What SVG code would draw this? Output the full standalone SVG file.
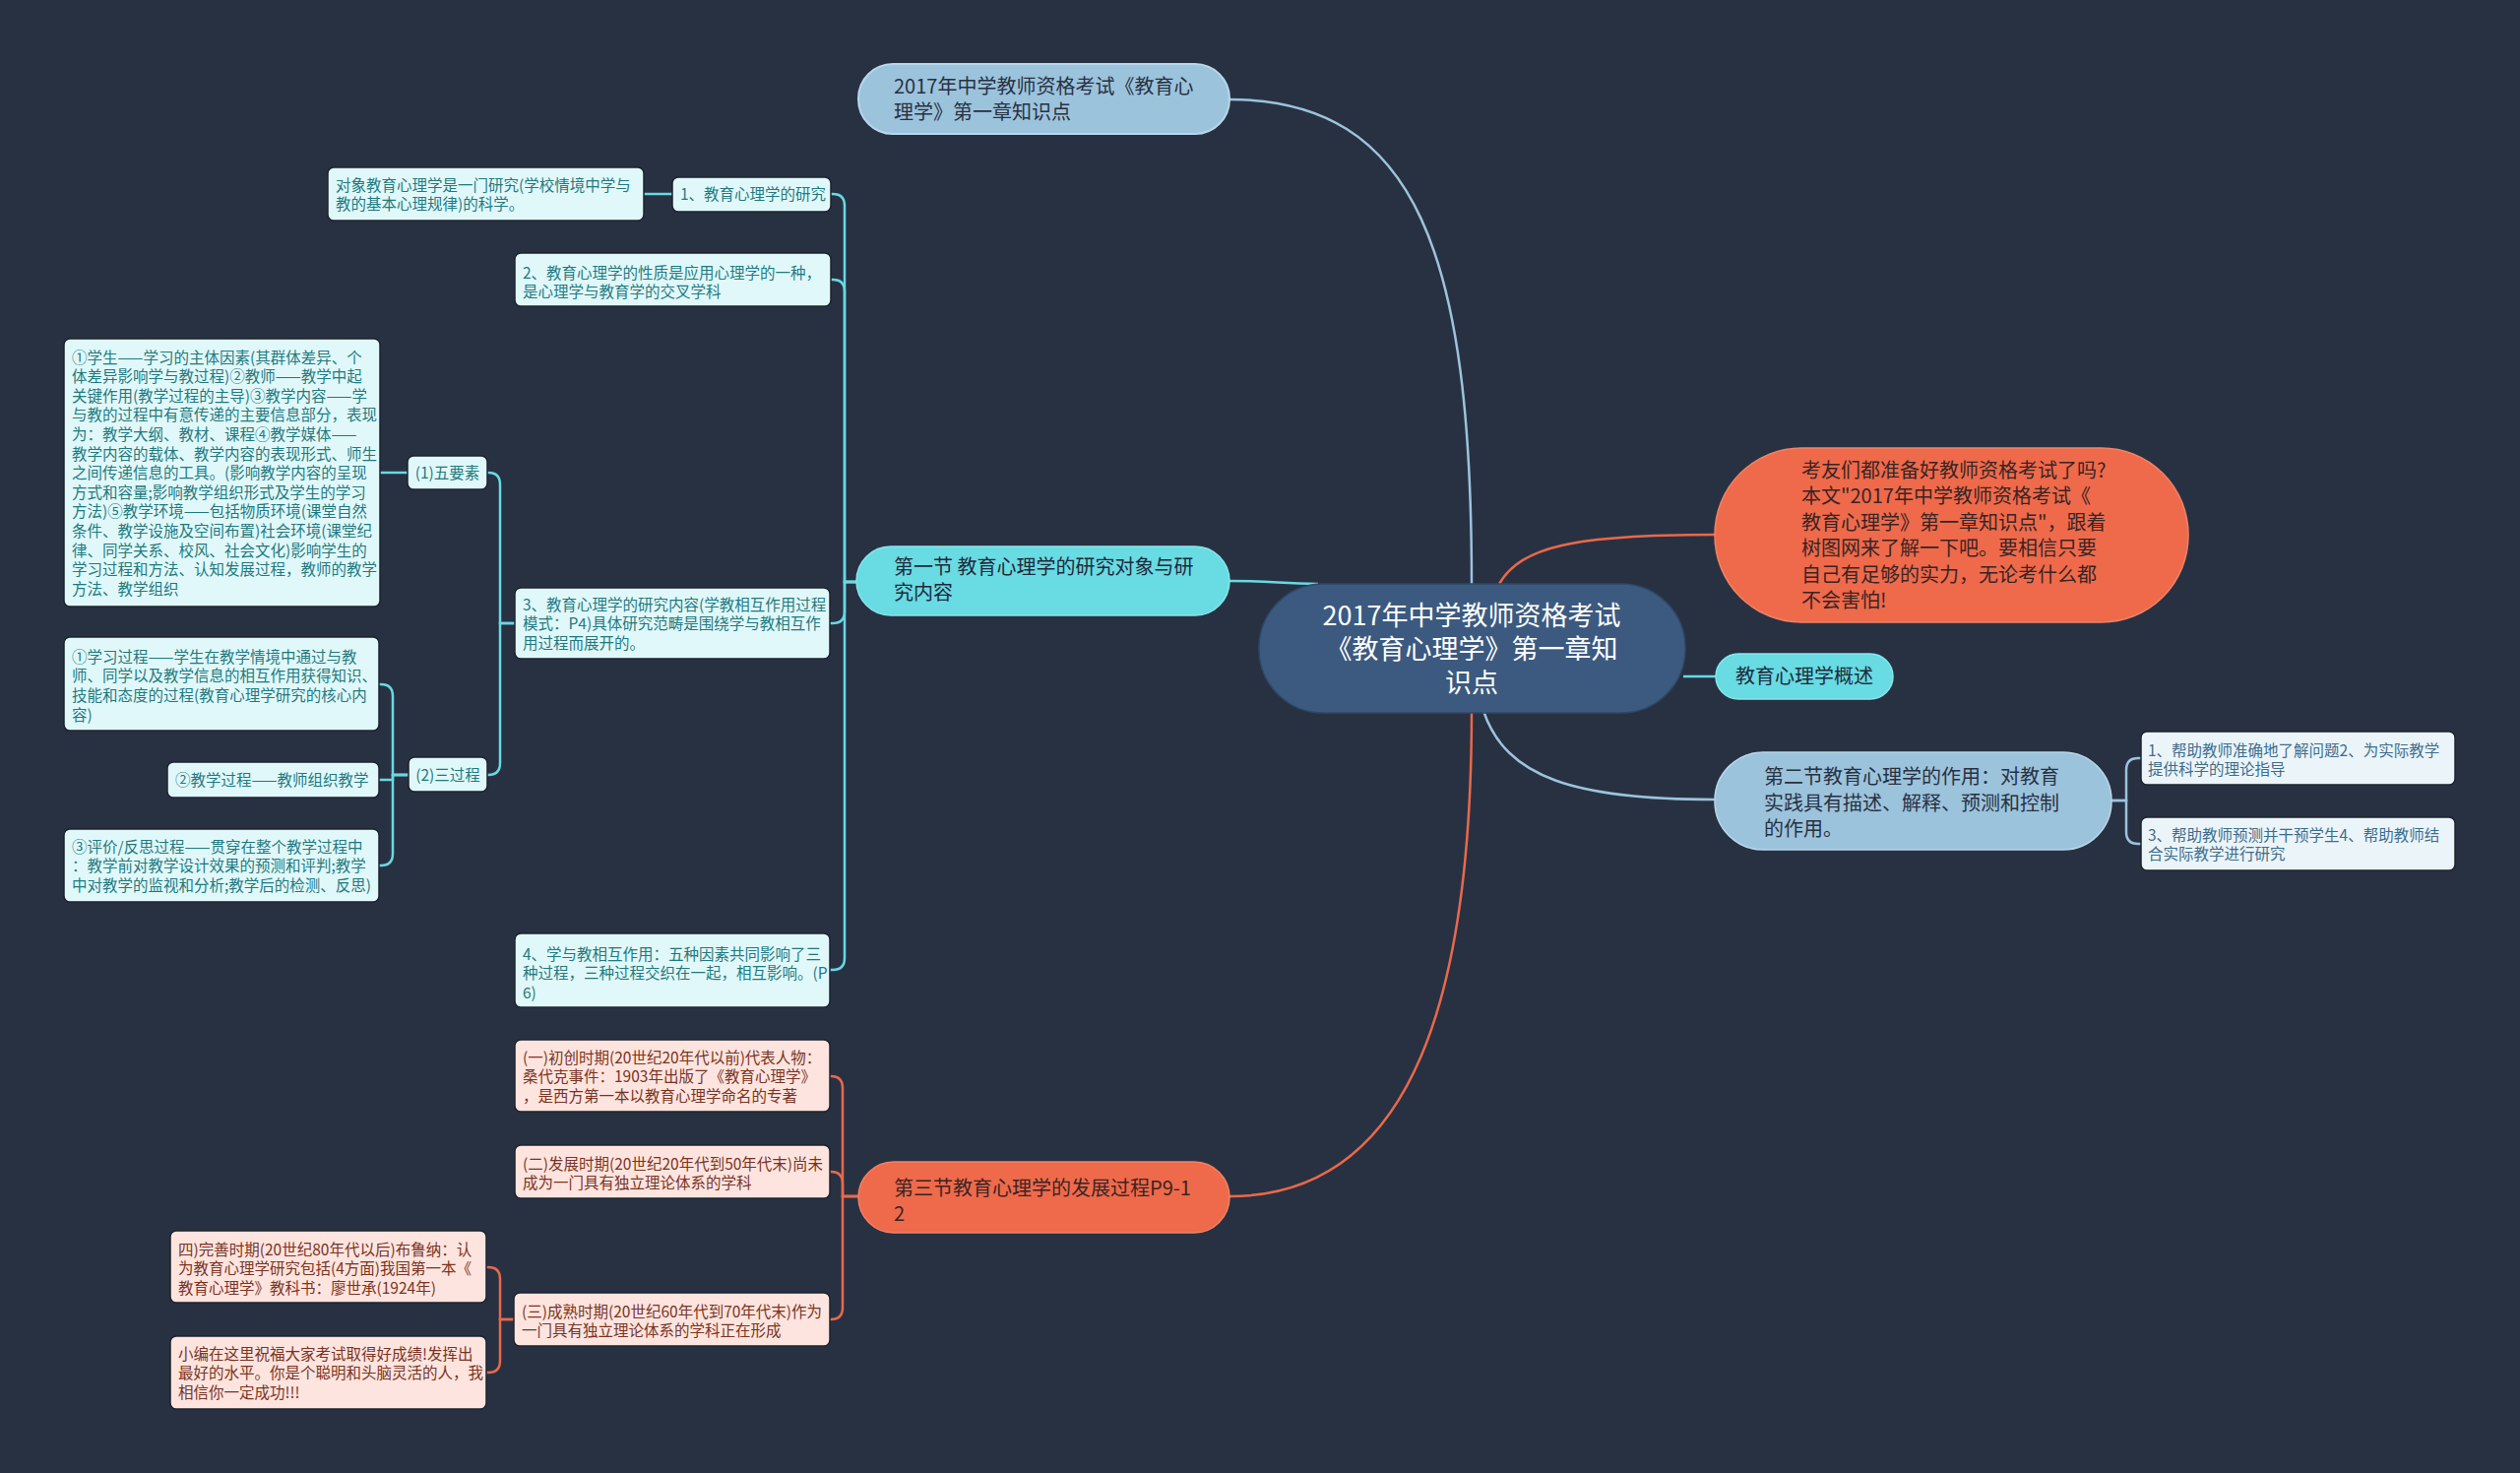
<svg xmlns="http://www.w3.org/2000/svg" width="2560" height="1496" viewBox="0 0 2560 1496">
<style>
text{font-family:"Noto Sans CJK SC","Noto Sans",sans-serif;}
.lf{font-size:15.5px;}
.c1 rect{fill:#e1f8fa;stroke:#1c232f;stroke-width:1.5;}
.c1 text{fill:#1e7a80;}
.c2 rect{fill:#ebf4f8;stroke:#1c232f;stroke-width:1.5;}
.c2 text{fill:#3d6d8d;}
.c3 rect{fill:#fde4de;stroke:#1c232f;stroke-width:1.5;}
.c3 text{fill:#7a3323;}
.m{font-size:20px;}
.lc{fill:none;stroke:#68d9e2;stroke-width:2.5;}
.lb{fill:none;stroke:#9cc3dc;stroke-width:2.5;}
.lo{fill:none;stroke:#e8694b;stroke-width:2.5;}
</style>
<rect x="0" y="0" width="2560" height="1496" fill="#283142"/>
<g id="connectors">
<path class="lb" d="M1249,101 C1440,101 1495,260 1495,593"/>
<path class="lo" d="M1495,722 C1495,1000 1440,1215 1249,1215"/>
<path class="lc" d="M1249,590 C1295,590 1300,593 1339,593"/>
<path class="lo" d="M1523,593 C1545,555 1600,543 1742,543"/>
<path class="lc" d="M1710,687 L1744,687"/>
<path class="lb" d="M1507,722 C1530,790 1600,812 1742,812"/>
<path class="lc" d="M870,591 H858 V209 Q858,197 846,197 H844"/>
<path class="lc" d="M870,591 H858 V296 Q858,284 846,284 H844"/>
<path class="lc" d="M870,591 H858 V621 Q858,633 846,633 H843"/>
<path class="lc" d="M870,591 H858 V973 Q858,985 846,985 H843"/>
<path class="lc" d="M683,197 L654,197"/>
<path class="lc" d="M523,633 H508 V492 Q508,480 496,480 H495"/>
<path class="lc" d="M523,633 H508 V775 Q508,787 496,787 H495"/>
<path class="lc" d="M414,480 L386,480"/>
<path class="lc" d="M415,787 H399 V707 Q399,695 387,695 H385"/>
<path class="lc" d="M415,787 H399 V792 H385"/>
<path class="lc" d="M415,787 H399 V867 Q399,879 387,879 H385"/>
<path class="lo" d="M872,1215 H856 V1105 Q856,1093 844,1093 H843"/>
<path class="lo" d="M872,1215 H856 V1202 Q856,1190 844,1190 H843"/>
<path class="lo" d="M872,1215 H856 V1328 Q856,1340 844,1340 H843"/>
<path class="lo" d="M522,1340 H508 V1299 Q508,1287 496,1287 H494"/>
<path class="lo" d="M522,1340 H508 V1382 Q508,1394 496,1394 H494"/>
<path class="lb" d="M2145,813 H2160 V782 Q2160,770 2172,770 H2175"/>
<path class="lb" d="M2145,813 H2160 V845 Q2160,857 2172,857 H2175"/>
</g>
<g id="root">
<rect x="1279" y="593" width="433" height="131" rx="65" fill="#3c5a7f" stroke="#2f4866" stroke-width="1.5"/>
<text x="1495" y="635" font-size="27" fill="#ffffff" text-anchor="middle">2017年中学教师资格考试<tspan x="1495" dy="34">《教育心理学》第一章知</tspan><tspan x="1495" dy="34">识点</tspan></text>
</g>
<g id="n-top">
<rect x="872" y="65" width="377" height="71" rx="35" fill="#9cc3dc" stroke="#b8d7ea" stroke-width="2"/>
<text class="m" x="908" y="95" fill="#283142">2017年中学教师资格考试《教育心<tspan x="908" dy="26">理学》第一章知识点</tspan></text>
</g>
<g id="n-sec1">
<rect x="870" y="555" width="379" height="70" rx="35" fill="#68dbe3" stroke="#86e6ec" stroke-width="1.5"/>
<text class="m" x="908" y="583" fill="#1f2a3a">第一节 教育心理学的研究对象与研<tspan x="908" dy="26">究内容</tspan></text>
</g>
<g id="n-sec3">
<rect x="872" y="1180" width="377" height="72" rx="36" fill="#ee6a4b" stroke="#f08265" stroke-width="1.5"/>
<text class="m" x="908" y="1214" fill="#3a2424">第三节教育心理学的发展过程P9-1<tspan x="908" dy="26">2</tspan></text>
</g>
<g id="n-intro">
<rect x="1742" y="455" width="481" height="177" rx="88" fill="#ee6a4b" stroke="#f08265" stroke-width="1.5"/>
<text class="m" x="1830" y="485" fill="#3a2424">考友们都准备好教师资格考试了吗?<tspan x="1830" dy="26.4">本文"2017年中学教师资格考试《</tspan><tspan x="1830" dy="26.4">教育心理学》第一章知识点"，跟着</tspan><tspan x="1830" dy="26.4">树图网来了解一下吧。要相信只要</tspan><tspan x="1830" dy="26.4">自己有足够的实力，无论考什么都</tspan><tspan x="1830" dy="26.4">不会害怕!</tspan></text>
</g>
<g id="n-overview">
<rect x="1743" y="664" width="180" height="46" rx="23" fill="#68dbe3" stroke="#86e6ec" stroke-width="1.5"/>
<text class="m" x="1833" y="694" fill="#1f2a3a" text-anchor="middle">教育心理学概述</text>
</g>
<g id="n-sec2">
<rect x="1742" y="764" width="403" height="99" rx="49" fill="#9cc3dc" stroke="#b8d7ea" stroke-width="1.5"/>
<text class="m" x="1792" y="796" fill="#283142">第二节教育心理学的作用：对教育<tspan x="1792" dy="26.5">实践具有描述、解释、预测和控制</tspan><tspan x="1792" dy="26.5">的作用。</tspan></text>
</g>
<g id="l-obj" class="c1">
<rect x="333" y="170" width="321" height="54" rx="6"/>
<text class="lf" x="341" y="193.5">对象教育心理学是一门研究(学校情境中学与<tspan x="341" dy="19.7">教的基本心理规律)的科学。</tspan></text>
</g>
<g id="l-1" class="c1">
<rect x="683" y="180" width="161" height="35" rx="6"/>
<text class="lf" x="691" y="203">1、教育心理学的研究</text>
</g>
<g id="l-2" class="c1">
<rect x="523" y="257" width="321" height="54" rx="6"/>
<text class="lf" x="531" y="282.5">2、教育心理学的性质是应用心理学的一种，<tspan x="531" dy="19.7">是心理学与教育学的交叉学科</tspan></text>
</g>
<g id="l-3" class="c1">
<rect x="523" y="597" width="320" height="72" rx="6"/>
<text class="lf" x="531" y="619.5">3、教育心理学的研究内容(学教相互作用过程<tspan x="531" dy="19.7">模式：P4)具体研究范畴是围绕学与教相互作</tspan><tspan x="531" dy="19.7">用过程而展开的。</tspan></text>
</g>
<g id="l-five" class="c1">
<rect x="414" y="463" width="81" height="34" rx="6"/>
<text class="lf" x="454.5" y="485.5" text-anchor="middle">(1)五要素</text>
</g>
<g id="l-five-d" class="c1">
<rect x="65" y="344" width="321" height="272" rx="6"/>
<text class="lf" x="73" y="368.5">①学生——学习的主体因素(其群体差异、个<tspan x="73" dy="19.6">体差异影响学与教过程)②教师——教学中起</tspan><tspan x="73" dy="19.6">关键作用(教学过程的主导)③教学内容——学</tspan><tspan x="73" dy="19.6">与教的过程中有意传递的主要信息部分，表现</tspan><tspan x="73" dy="19.6">为：教学大纲、教材、课程④教学媒体——</tspan><tspan x="73" dy="19.6">教学内容的载体、教学内容的表现形式、师生</tspan><tspan x="73" dy="19.6">之间传递信息的工具。(影响教学内容的呈现</tspan><tspan x="73" dy="19.6">方式和容量;影响教学组织形式及学生的学习</tspan><tspan x="73" dy="19.6">方法)⑤教学环境——包括物质环境(课堂自然</tspan><tspan x="73" dy="19.6">条件、教学设施及空间布置)社会环境(课堂纪</tspan><tspan x="73" dy="19.6">律、同学关系、校风、社会文化)影响学生的</tspan><tspan x="73" dy="19.6">学习过程和方法、认知发展过程，教师的教学</tspan><tspan x="73" dy="19.6">方法、教学组织</tspan></text>
</g>
<g id="l-three" class="c1">
<rect x="415" y="769" width="80" height="35" rx="6"/>
<text class="lf" x="455" y="792.5" text-anchor="middle">(2)三过程</text>
</g>
<g id="l-p1" class="c1">
<rect x="65" y="647" width="320" height="95" rx="6"/>
<text class="lf" x="73" y="672.5">①学习过程——学生在教学情境中通过与教<tspan x="73" dy="19.7">师、同学以及教学信息的相互作用获得知识、</tspan><tspan x="73" dy="19.7">技能和态度的过程(教育心理学研究的核心内</tspan><tspan x="73" dy="19.7">容)</tspan></text>
</g>
<g id="l-p2" class="c1">
<rect x="170" y="774" width="215" height="36" rx="6"/>
<text class="lf" x="178" y="797.5">②教学过程——教师组织教学</text>
</g>
<g id="l-p3" class="c1">
<rect x="65" y="842" width="320" height="74" rx="6"/>
<text class="lf" x="73" y="865.5">③评价/反思过程——贯穿在整个教学过程中<tspan x="73" dy="19.7">：教学前对教学设计效果的预测和评判;教学</tspan><tspan x="73" dy="19.7">中对教学的监视和分析;教学后的检测、反思)</tspan></text>
</g>
<g id="l-4" class="c1">
<rect x="523" y="948" width="320" height="75" rx="6"/>
<text class="lf" x="531" y="974.5">4、学与教相互作用：五种因素共同影响了三<tspan x="531" dy="19.7">种过程，三种过程交织在一起，相互影响。(P</tspan><tspan x="531" dy="19.7">6)</tspan></text>
</g>
<g id="l-h1" class="c3">
<rect x="523" y="1056" width="320" height="73" rx="6"/>
<text class="lf" x="531" y="1079.5">(一)初创时期(20世纪20年代以前)代表人物：<tspan x="531" dy="19.7">桑代克事件：1903年出版了《教育心理学》</tspan><tspan x="531" dy="19.7">，是西方第一本以教育心理学命名的专著</tspan></text>
</g>
<g id="l-h2" class="c3">
<rect x="523" y="1163" width="320" height="54" rx="6"/>
<text class="lf" x="531" y="1187.5">(二)发展时期(20世纪20年代到50年代末)尚未<tspan x="531" dy="19.7">成为一门具有独立理论体系的学科</tspan></text>
</g>
<g id="l-h3" class="c3">
<rect x="522" y="1313" width="321" height="54" rx="6"/>
<text class="lf" x="530" y="1337.5">(三)成熟时期(20世纪60年代到70年代末)作为<tspan x="530" dy="19.7">一门具有独立理论体系的学科正在形成</tspan></text>
</g>
<g id="l-h4" class="c3">
<rect x="173" y="1250" width="321" height="73" rx="6"/>
<text class="lf" x="181" y="1274.5">四)完善时期(20世纪80年代以后)布鲁纳：认<tspan x="181" dy="19.7">为教育心理学研究包括(4方面)我国第一本《</tspan><tspan x="181" dy="19.7">教育心理学》教科书：廖世承(1924年)</tspan></text>
</g>
<g id="l-h5" class="c3">
<rect x="173" y="1357" width="321" height="74" rx="6"/>
<text class="lf" x="181" y="1380.5">小编在这里祝福大家考试取得好成绩!发挥出<tspan x="181" dy="19.7">最好的水平。你是个聪明和头脑灵活的人，我</tspan><tspan x="181" dy="19.7">相信你一定成功!!!</tspan></text>
</g>
<g id="l-r1" class="c2">
<rect x="2175" y="743" width="319" height="54" rx="6"/>
<text class="lf" x="2182" y="767.5">1、帮助教师准确地了解问题2、为实际教学<tspan x="2182" dy="19.7">提供科学的理论指导</tspan></text>
</g>
<g id="l-r2" class="c2">
<rect x="2175" y="830" width="319" height="54" rx="6"/>
<text class="lf" x="2182" y="853.5">3、帮助教师预测并干预学生4、帮助教师结<tspan x="2182" dy="19.7">合实际教学进行研究</tspan></text>
</g>
</svg>
